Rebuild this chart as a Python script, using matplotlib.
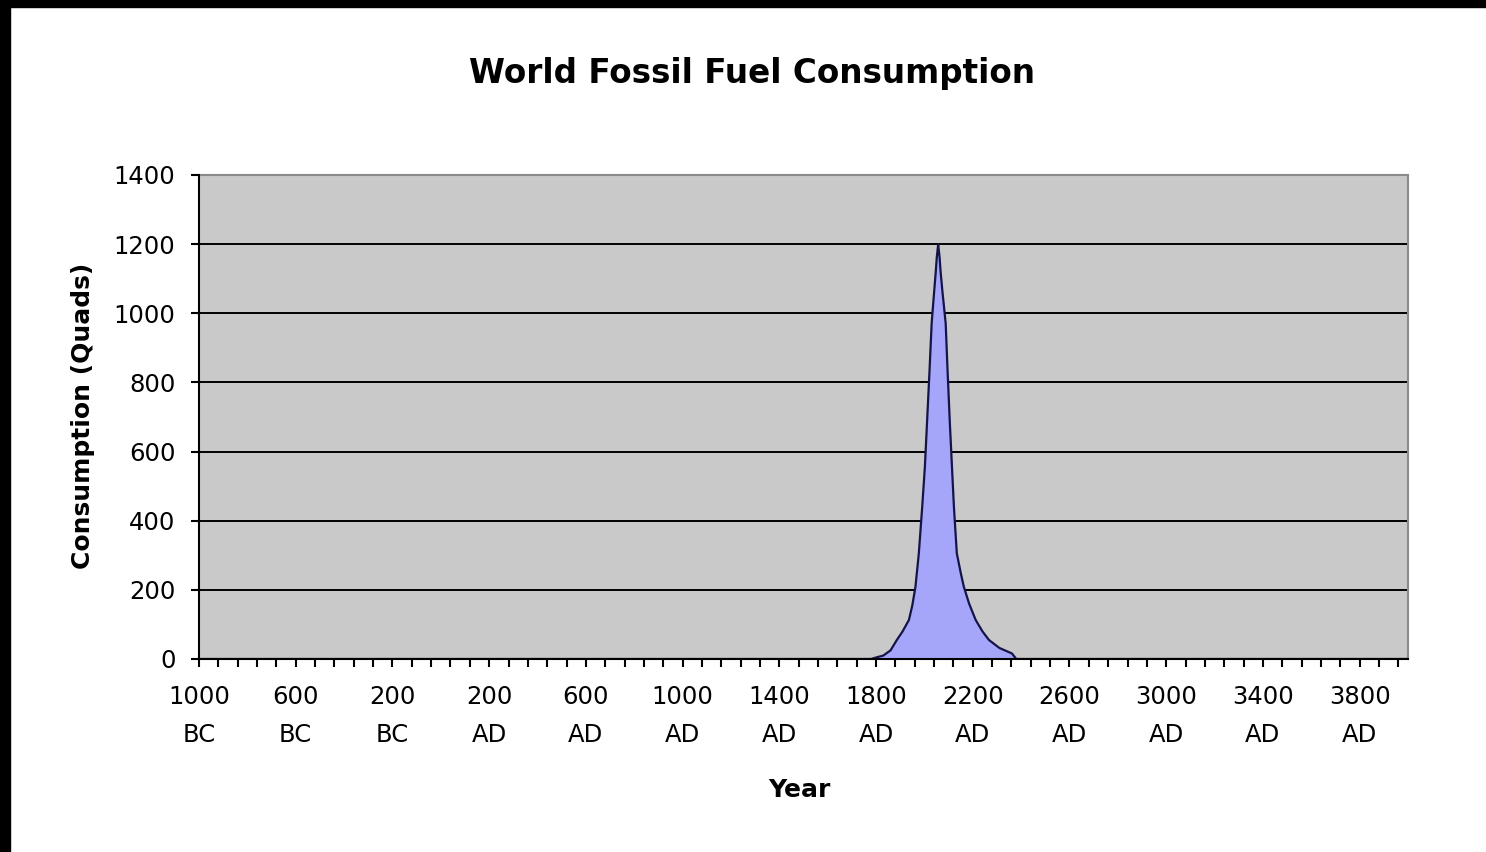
import numpy as np
import matplotlib
matplotlib.use('Agg')
import matplotlib.pyplot as plt
from matplotlib.patches import Rectangle

plt.rcParams['font.family'] = ['DejaVu Sans']

# consumption curve (year, quads); negative years are BC
years = [-1000, 1780, 1798, 1830, 1860, 1886, 1910, 1936, 1950, 1963, 1977, 1991,
         2002, 2011, 2021, 2030, 2040, 2047, 2051, 2054, 2057, 2060, 2063, 2067,
         2075, 2088, 2096, 2105, 2114, 2122, 2134, 2150, 2163, 2185, 2212, 2240,
         2267, 2310, 2362, 2380, 4000]
consumption = [0, 0, 4, 10, 25, 55, 80, 113, 155, 209, 306, 441,
               556, 686, 831, 971, 1060, 1120, 1160, 1180, 1200, 1180, 1160, 1120,
               1060, 971, 831, 686, 556, 441, 306, 250, 209, 160, 113, 80,
               55, 32, 16, 0, 0]

label_years = list(range(-1000, 4000, 400))
y_ticks = [0, 200, 400, 600, 800, 1000, 1200, 1400]


def year_label(y):
    if y < 0:
        return str(-y) + '\nBC'
    return str(y) + '\nAD'


W, H = 1486, 852
fig = plt.figure(figsize=(W / 100, H / 100), dpi=100)
fig.patch.set_facecolor('white')

# black frame strips at top and left of the screenshot
fig.patches.append(Rectangle((0, 1 - 7 / H), 1, 7 / H, transform=fig.transFigure,
                             color='black', zorder=10))
fig.patches.append(Rectangle((0, 0), 10 / W, 1, transform=fig.transFigure,
                             color='black', zorder=10))

ax = fig.add_axes([199 / W, 1 - 659 / H, (1408 - 199) / W, (659 - 175) / H])
ax.set_facecolor('#c9c9c9')

ax.fill_between(years, consumption, 0, color='#a5a5fa', zorder=3, linewidth=0)
ax.plot(years, consumption, color='#141448', linewidth=1.6, zorder=4)

ax.set_xlim(-1000, 4000)
ax.set_ylim(0, 1400)

for g in y_ticks[1:-1]:
    ax.axhline(g, color='black', linewidth=1.4, zorder=2)

ax.set_yticks(y_ticks)
ax.set_yticklabels([str(v) for v in y_ticks], fontsize=17.5)
ax.set_xticks(label_years)
ax.set_xticklabels([year_label(y) for y in label_years], fontsize=17.5,
                   linespacing=1.7)
ax.set_xticks(list(range(-1000, 4000, 80)), minor=True)
ax.tick_params(axis='x', which='both', length=6, width=1.5, color='black',
               direction='out')
ax.tick_params(axis='x', which='major', pad=13)
ax.tick_params(axis='y', length=6, width=1.5, color='black', pad=11)

for side in ['top', 'right']:
    ax.spines[side].set_color('#8a8a8a')
    ax.spines[side].set_linewidth(1.5)
for side in ['left', 'bottom']:
    ax.spines[side].set_color('black')
    ax.spines[side].set_linewidth(1.5)
    ax.spines[side].set_zorder(5)

fig.text(752 / W, 1 - 73 / H, 'World Fossil Fuel Consumption', fontsize=23.5,
         fontweight='bold', ha='center', va='center')
fig.text(799 / W, 1 - 790 / H, 'Year', fontsize=18, fontweight='bold',
         ha='center', va='center')
fig.text(83 / W, 1 - 416 / H, 'Consumption (Quads)', fontsize=18, fontweight='bold',
         ha='center', va='center', rotation=90)

fig.savefig('out.png', dpi=100)
